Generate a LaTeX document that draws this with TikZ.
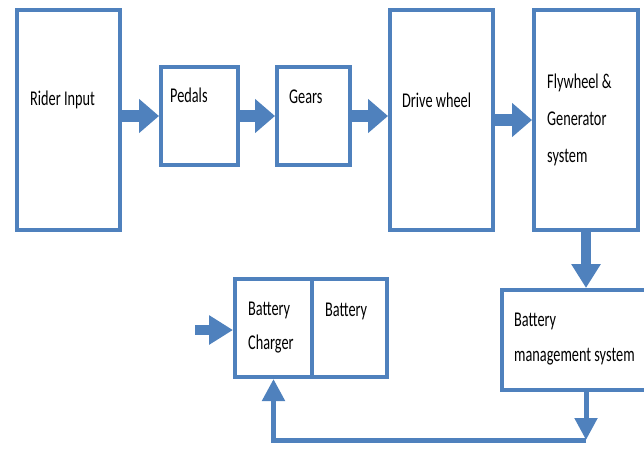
\documentclass[tikz,border=0pt]{standalone}
\usepackage{fontspec}
\setmainfont{Carlito}[FakeStretch=0.68]
\usepackage{tikz}
\usetikzlibrary{arrows.meta}
\definecolor{boxblue}{RGB}{79,129,189}

\begin{document}
\begin{tikzpicture}[x=1pt, y=-1pt,
  box/.style={draw=boxblue, line width=4pt, inner sep=0pt},
  lbl/.style={anchor=west, inner sep=0pt, align=left, font=\fontsize{21}{37}\selectfont},
  bigarr/.style={draw=boxblue, line width=12pt, -{Triangle[length=20pt, width=33pt]}},
  midarr/.style={draw=boxblue, line width=10pt, -{Triangle[length=24pt, width=28pt]}},
  thinarr/.style={draw=boxblue, line width=5pt, -{Triangle[length=22pt, width=22pt]}}]
\useasboundingbox (0,0) rectangle (644,450);

% boxes
\node[box, minimum width=103pt, minimum height=220pt] (rider) at (68.5,120) {};
\node[box, minimum width=77pt, minimum height=98pt] (pedals) at (199.5,116) {};
\node[box, minimum width=73pt, minimum height=98pt] (gears) at (313.5,116) {};
\node[box, minimum width=103pt, minimum height=220pt] (drive) at (441.5,120) {};
\node[box, minimum width=104pt, minimum height=220pt] (fly) at (586,120) {};
\node[box, minimum width=77pt, minimum height=98pt] (charger) at (273.5,328) {};
\node[box, minimum width=75pt, minimum height=98pt] (battery) at (349.5,328) {};
\node[box, minimum width=150pt, minimum height=100pt] (bms) at (577,340) {};

% texts
\node[lbl] (riderT) at (30,100) {Rider Input};
\node[lbl] (pedalsT) at (170,95) {Pedals};
\node[lbl] (gearsT) at (289,97) {Gears};
\node[lbl] (driveT) at (402,100) {Drive wheel};
\node[lbl] (flyT) at (547,120) {Flywheel \&\\Generator\\system};
\node[lbl, font=\fontsize{21}{34}\selectfont] (chargerT) at (248,328) {Battery\\Charger};
\node[lbl] (batteryT) at (325,311) {Battery};
\node[lbl, font=\fontsize{21}{35}\selectfont] (bmsT) at (514,339.5) {Battery\\management system};

% arrows
\draw[bigarr] (rider.east |- pedals.west) -- (pedals.west);
\draw[bigarr] (pedals.east) -- (gears.west);
\draw[bigarr] (gears.east) -- (gears.east -| drive.west);
\draw[bigarr] (drive.east) -- (fly.west);
\draw[midarr] (fly.south) -- (fly.south |- bms.north);

\coordinate (chargeIn) at (195,330);
\draw[midarr] (chargeIn) -- (chargeIn -| charger.west);

\coordinate (loopR) at (586,440);
\coordinate (loopL) at (charger.south |- loopR);
\draw[thinarr] (fly.south |- bms.south) -- (loopR);
\draw[thinarr] (loopR) -- (loopL) -- (charger.south);
\end{tikzpicture}
\end{document}
